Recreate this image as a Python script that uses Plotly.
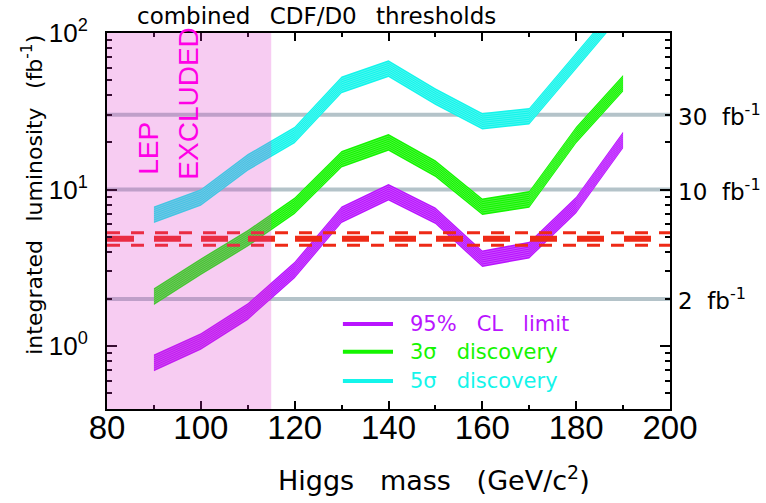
import numpy as np
import plotly.graph_objects as go

# ---------------- data ----------------
mass = [90, 100, 110, 120, 130, 140, 150, 160, 170, 180, 190]
lumi_95cl = [0.78, 1.07, 1.66, 3.06, 6.9, 9.6, 6.8, 3.61, 4.10, 7.96, 20.7]
lumi_3sigma = [2.07, 3.21, 4.88, 7.87, 15.6, 20.0, 13.6, 7.76, 8.65, 22.3, 47.7]
lumi_5sigma = [6.9, 8.9, 14.9, 22.3, 46.6, 59.2, 39.2, 27.3, 29.4, 67.0, 150.0]
band_factor = 1.13          # half-width of each band (multiplicative)
n_stripes = 8

S2 = "\u00a0\u00a0"
S3 = "\u00a0\u00a0\u00a0"
G = "\u00a0\u00a0\u2009"
reference_lumi = [2, 10, 30]
reference_labels = ["2" + S2 + "fb<sup>-1</sup>", "10" + S2 + "fb<sup>-1</sup>", "30" + S2 + "fb<sup>-1</sup>"]
run2_lumi_center = 4.85
run2_lumi_edges = [5.3, 4.4]
lep_limit = 115
x_range = [80, 200]
x_ticks = [80, 100, 120, 140, 160, 180, 200]
y_ticks = [1, 10, 100]
y_ticktext = ["10<sup>0</sup>", "10<sup>1</sup>", "10<sup>2</sup>"]

series = [
    ("95%" + S3 + "CL" + S3 + "limit", lumi_95cl, "rgb(185,20,255)"),
    ("3σ" + S3 + "discovery", lumi_3sigma, "rgb(20,245,0)"),
    ("5σ" + S3 + "discovery", lumi_5sigma, "rgb(20,245,235)"),
]

TXT = "DejaVu Sans"
NUM = "Liberation Sans"
fig = go.Figure()

# reference luminosity lines
for v in reference_lumi:
    fig.add_trace(go.Scatter(x=x_range, y=[v, v], mode="lines",
                             line=dict(color="rgb(180,195,201)", width=4),
                             hoverinfo="skip", showlegend=False))

# bands
for name, vals, col in series:
    v = np.array(vals, dtype=float)
    lo = v / band_factor
    hi = v * band_factor
    fig.add_trace(go.Scatter(x=mass, y=lo, mode="lines", line=dict(width=0, color=col),
                             hoverinfo="skip", showlegend=False))
    fig.add_trace(go.Scatter(x=mass, y=hi, mode="lines", line=dict(width=0, color=col),
                             fill="tonexty", fillcolor=col, hoverinfo="skip", showlegend=False))
    for k in range(1, n_stripes):
        f = band_factor ** (-1 + 2 * k / n_stripes)
        fig.add_trace(go.Scatter(x=mass, y=v * f, mode="lines",
                                 line=dict(width=0.6, color="rgba(255,255,255,0.4)"),
                                 hoverinfo="skip", showlegend=False))

# red dashed Run II lines
for v in run2_lumi_edges:
    fig.add_trace(go.Scatter(x=x_range, y=[v, v], mode="lines",
                             line=dict(color="rgb(238,42,22)", width=3, dash="13px,11px"),
                             hoverinfo="skip", showlegend=False))
fig.add_trace(go.Scatter(x=x_range, y=[run2_lumi_center] * 2, mode="lines",
                         line=dict(color="rgb(238,42,22)", width=6, dash="27px,20px"),
                         hoverinfo="skip", showlegend=False))

# LEP excluded region
fig.add_shape(type="rect", xref="x", yref="paper", x0=x_range[0], x1=lep_limit, y0=0, y1=1,
              fillcolor="rgba(223,51,203,0.25)", line=dict(width=0), layer="above")

LEPF = dict(family="Liberation Sans Narrow, Liberation Sans", size=28, color="rgb(255,0,230)")
ann = []
ann.append(dict(text="LEP", x=88.8, xref="x", y=0.617, yref="paper", textangle=-90,
                xanchor="center", yanchor="bottom", showarrow=False, font=LEPF))
ann.append(dict(text="EXCLUDED", x=97.3, xref="x", y=0.605, yref="paper", textangle=-90,
                xanchor="center", yanchor="bottom", showarrow=False, font=LEPF))

# right-side labels
for v, lab in zip(reference_lumi, reference_labels):
    ann.append(dict(text=lab, x=1.0107, xref="paper", y=np.log10(v), yref="y",
                    xanchor="left", yanchor="middle", showarrow=False,
                    font=dict(family=TXT, size=23, color="black")))

# legend
leg_y = [0.226, 0.152, 0.0745]
for (name, vals, col), yy in zip(series, leg_y):
    fig.add_shape(type="line", xref="paper", yref="paper", x0=0.419, x1=0.508, y0=yy, y1=yy,
                  line=dict(color=col, width=4))
    ann.append(dict(text=name, x=0.535, xref="paper", y=yy, yref="paper",
                    xanchor="left", yanchor="middle", showarrow=False,
                    font=dict(family=TXT, size=21, color=col)))

# titles
ann.append(dict(text="combined" + G + "CDF/D0" + G + "thresholds", x=0.373, xref="paper", y=1.045,
                yref="paper", xanchor="center", yanchor="middle", showarrow=False,
                font=dict(family=TXT, size=23, color="black")))
ann.append(dict(text="Higgs" + S3 + "mass" + S3 + "(GeV/c<sup>2</sup>)", x=0.580, xref="paper", y=-0.186,
                yref="paper", xanchor="center", yanchor="middle", showarrow=False,
                font=dict(family=TXT, size=27, color="black")))
ann.append(dict(text="integrated" + G + "luminosity" + G + "(fb<sup>-1</sup>)", x=-0.133, xref="paper",
                y=0.57, yref="paper", textangle=-90, xanchor="center", yanchor="middle",
                showarrow=False, font=dict(family=TXT, size=22, color="black")))

fig.update_layout(
    width=766, height=503,
    margin=dict(l=107, r=96, t=33, b=94),
    paper_bgcolor="white", plot_bgcolor="white",
    showlegend=False,
    annotations=ann,
    xaxis=dict(range=x_range, tickvals=x_ticks, ticks="inside", ticklen=8, tickwidth=2,
               tickcolor="black", showline=True, linewidth=2, linecolor="black", mirror="ticks",
               showgrid=False, zeroline=False, ticklabelstandoff=-12,
               tickfont=dict(family=NUM, size=33, color="black"),
               minor=dict(dtick=10, ticks="inside", ticklen=4, tickwidth=2, tickcolor="black", showgrid=False)),
    yaxis=dict(type="log", range=[np.log10(0.396), 2], tickvals=y_ticks, ticktext=y_ticktext,
               ticks="inside", ticklen=10, tickwidth=2, tickcolor="black",
               showline=True, linewidth=2, linecolor="black", mirror="ticks",
               showgrid=False, zeroline=False, ticklabelstandoff=12,
               tickfont=dict(family=NUM, size=26, color="black"),
               minor=dict(tickvals=[0.4, 0.5, 0.6, 0.7, 0.8, 0.9, 2, 3, 4, 5, 6, 7, 8, 9,
                                    20, 30, 40, 50, 60, 70, 80, 90],
                          ticks="inside", ticklen=5, tickwidth=2, tickcolor="black", showgrid=False)),
)

fig.write_html("out.html")
